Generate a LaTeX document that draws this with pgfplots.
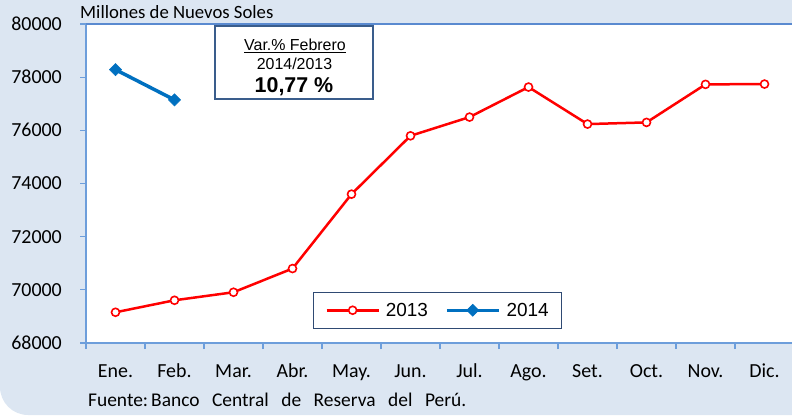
\documentclass[border=0pt]{standalone}
\usepackage{pgfplots}
\pgfplotsset{compat=1.18}
\usepackage{fontspec}
\setmainfont{Carlito}
\newfontfamily\arial{Liberation Sans}
\definecolor{bgblue}{HTML}{DCE6F2}
\definecolor{axblue}{HTML}{6D9EDB}
\definecolor{topblue}{HTML}{5A8AD0}
\definecolor{serred}{HTML}{FF0000}
\definecolor{serblue}{HTML}{0070C0}
\definecolor{boxborder}{HTML}{3A5D8C}
\definecolor{legborder}{HTML}{2F4A73}
\begin{document}
\begin{tikzpicture}[x=1bp,y=1bp]
\useasboundingbox (0,0) rectangle (792,415);
\fill[bgblue] (792,415) -- (0,415) [rounded corners=28bp] -- (0,0) [sharp corners] -- (792,0) -- cycle;
\begin{axis}[
  at={(86bp,72bp)}, anchor=south west,
  scale only axis, width=708bp, height=319bp,
  xmin=0.5, xmax=12.5, ymin=68000, ymax=80000,
  axis background/.style={fill=white},
  axis x line*=bottom, axis y line*=left,
  axis line style={draw=axblue, line width=1.6bp, -},
  tick align=outside,
  tick style={draw=axblue, line width=1.2bp},
  major tick length=6bp, minor tick length=6bp,
  xtick={1,...,12},
  xticklabels={Ene.,Feb.,Mar.,Abr.,May.,Jun.,Jul.,Ago.,Set.,Oct.,Nov.,Dic.},
  major x tick style={draw=none},
  minor xtick={0.5,1.5,...,12.5},
  ytick={68000,70000,...,80000},
  scaled y ticks=false,
  /pgf/number format/1000 sep={},
  /pgf/number format/assume math mode=true,
  xticklabel style={font=\fontsize{20}{24}\selectfont, anchor=base, inner sep=0bp, text height=14bp, text depth=4bp, yshift=-28bp},
  yticklabel style={font=\fontsize{20}{24}\selectfont, anchor=east, inner sep=0bp, xshift=-18bp},
  legend style={at={(0.3206,0.1599)}, anchor=north west, draw=legborder, line width=0.8bp, fill=white,
    font=\arial\fontsize{19}{22}\selectfont, legend columns=2, inner xsep=12bp, inner ysep=9.5bp,
    nodes={inner sep=1bp},
    /tikz/every odd column/.append style={column sep=5bp},
    /tikz/every even column/.append style={column sep=16bp}},
  legend image code/.code={\draw[mark repeat=2, mark phase=2, #1] plot coordinates {(0bp,0bp) (26bp,0bp) (52bp,0bp)};},
]
\addplot[serred, line width=2.5bp, mark=*, mark size=4bp, mark options={fill=white, draw=serred, line width=1.6bp, solid}]
  coordinates {(1,69156) (2,69607) (3,69909) (4,70801) (5,73599) (6,75794) (7,76498) (8,77628) (9,76235) (10,76298) (11,77729) (12,77740)};
\addlegendentry{2013}
\addplot[serblue, line width=3.5bp, mark=square*, mark size=4.3bp, mark options={line width=0.5bp, solid, rotate=45}]
  coordinates {(1,78283) (2,77146)};
\addlegendentry{2014}
\draw[topblue, line width=2.5bp] (rel axis cs:0,1) -- (rel axis cs:1,1);
\end{axis}
\draw[boxborder, line width=1.8bp, fill=white] (215,316) rectangle (373,389);
\node[anchor=base, inner sep=0bp, font=\arial\fontsize{16}{19}\selectfont] at (295,364.3) {\underline{Var.\% Febrero}};
\node[anchor=base, inner sep=0bp, font=\arial\fontsize{16}{19}\selectfont] at (294.5,346) {2014/2013};
\node[anchor=base, inner sep=0bp, font=\arial\bfseries\fontsize{21.5}{25}\selectfont] at (294,323) {10,77 \%};
\node[anchor=base west, inner sep=0bp, font=\fontsize{18.8}{22}\selectfont] at (80,396) {Millones de Nuevos Soles};
\node[anchor=base west, inner sep=0bp, font=\fontsize{19.5}{23}\selectfont] at (88,8.3) {\makebox[378bp][s]{Fuente:\kern3bp Banco Central de Reserva del Perú.}};
\end{tikzpicture}
\end{document}
